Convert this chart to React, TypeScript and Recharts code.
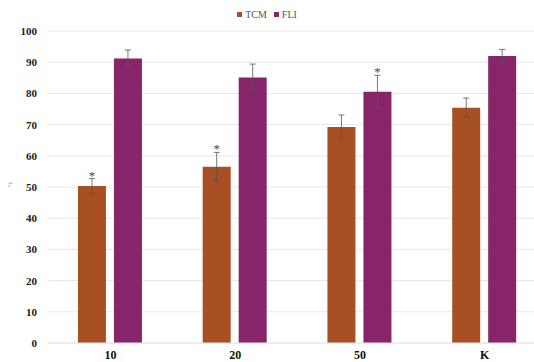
import { BarChart, Bar, XAxis, YAxis, CartesianGrid, Legend, ErrorBar, LabelList } from "recharts"

const categories = ["10", "20", "50", "K"]
const tcmValues = [50.3, 56.5, 69.2, 75.4]
const tcmErrors = [2.4, 4.6, 3.9, 3.1]
const fliValues = [91.2, 85.1, 80.5, 92.0]
const fliErrors = [2.7, 4.3, 5.3, 2.1]
const tcmMarks = ["*", "*", "", ""]
const fliMarks = ["", "", "*", ""]
const yTicks = [0, 10, 20, 30, 40, 50, 60, 70, 80, 90, 100]

const TCM_COLOR = "#A84F24"
const FLI_COLOR = "#87246A"
const FONT = "'Liberation Serif', 'DejaVu Serif', serif"

const data = categories.map((c, i) => ({
  name: c,
  TCM: tcmValues[i],
  tcmErr: tcmErrors[i],
  tcmMark: tcmMarks[i],
  FLI: fliValues[i],
  fliErr: fliErrors[i],
  fliMark: fliMarks[i],
}))

// asterisk drawn just above the error bar cap
function starLabel(errs: number[], vals: number[]) {
  return (props: any) => {
    const { x, y, width, height, value, index } = props
    if (!value) return null
    const perUnit = height / vals[index]
    const top = y - errs[index] * perUnit
    return (
      <text x={x + width / 2} y={top + 1} textAnchor="middle" fontSize={13} fill="#444" style={{ fontFamily: FONT }}>
        {value}
      </text>
    )
  }
}

function LegendContent() {
  const items = [
    { name: "TCM", color: TCM_COLOR },
    { name: "FLI", color: FLI_COLOR },
  ]
  return (
    <div style={{ display: "flex", justifyContent: "center", paddingTop: 9, paddingRight: 6, fontFamily: FONT, fontSize: 10, color: "#555" }}>
      {items.map((it) => (
        <span key={it.name} style={{ display: "flex", alignItems: "center", marginRight: 7 }}>
          <span style={{ width: 5, height: 5, background: it.color, display: "inline-block", marginRight: 3 }} />
          {it.name}
        </span>
      ))}
    </div>
  )
}

function XTick(props: any) {
  const { x, y, payload } = props
  return (
    <text x={x} y={y + 8} textAnchor="middle" fontSize={12} fontWeight="bold" fill="#111" style={{ fontFamily: FONT }}>
      {payload.value}
    </text>
  )
}

function YTick(props: any) {
  const { x, y, payload } = props
  return (
    <text x={x} y={y + 4} textAnchor="end" fontSize={11} fontWeight="bold" fill="#222" style={{ fontFamily: FONT }}>
      {payload.value}
    </text>
  )
}

export default function App() {
  return (
    <div style={{ position: "fixed", left: 0, top: 0, width: 534, height: 362, overflow: "hidden", background: "#fff", fontFamily: FONT }}>
      <BarChart
        width={560}
        height={380}
        data={data}
        margin={{ top: 0, right: 13, left: 0, bottom: 7 }}
        barCategoryGap="24%"
        barGap={8}
      >
        <CartesianGrid vertical={false} stroke="#E6E6E6" strokeWidth={1} />
        <Legend verticalAlign="top" height={31} content={<LegendContent />} />
        <XAxis dataKey="name" axisLine={{ stroke: "#E6E6E6" }} tickLine={false} height={30} tick={<XTick />} />
        <YAxis
          domain={[0, 100]}
          ticks={yTicks}
          width={48}
          axisLine={false}
          tickLine={false}
          tickSize={0}
          tickMargin={11}
          tick={<YTick />}
          label={{ value: "%", angle: -90, position: "insideLeft", offset: 10, fontSize: 6, fill: "#888" }}
        />
        <Bar dataKey="TCM" fill={TCM_COLOR} isAnimationActive={false}>
          <ErrorBar dataKey="tcmErr" width={3} stroke="#555" strokeWidth={0.8} />
          <LabelList dataKey="tcmMark" content={starLabel(tcmErrors, tcmValues)} />
        </Bar>
        <Bar dataKey="FLI" fill={FLI_COLOR} isAnimationActive={false}>
          <ErrorBar dataKey="fliErr" width={3} stroke="#555" strokeWidth={0.8} />
          <LabelList dataKey="fliMark" content={starLabel(fliErrors, fliValues)} />
        </Bar>
      </BarChart>
    </div>
  )
}
